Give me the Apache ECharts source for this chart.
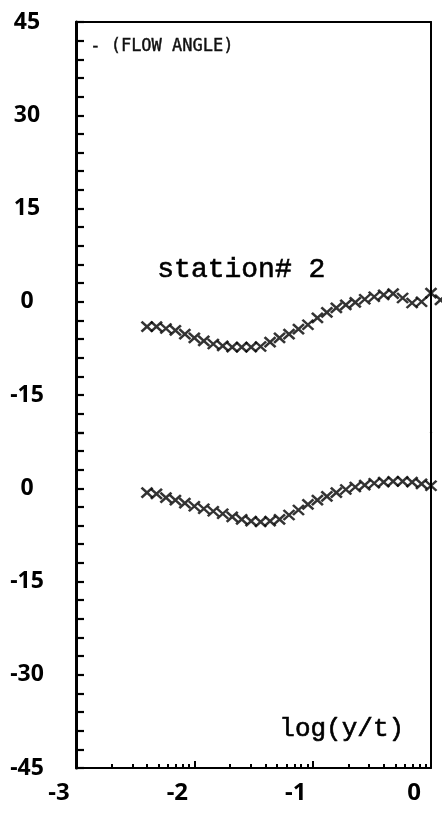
<!DOCTYPE html>
<html><head><meta charset="utf-8">
<script src="https://cdn.jsdelivr.net/npm/echarts@6/dist/echarts.min.js"></script>
<style>html,body{margin:0;padding:0;background:#fff}#c{width:442px;height:823px}</style>
</head><body><div id="c"></div>
<script>
// log(y/t) positions of the measurement points
const xUpper = [-2.40,-2.32,-2.24,-2.16,-2.08,-2.00,-1.92,-1.84,-1.76,-1.68,-1.60,-1.52,-1.44,-1.36,-1.28,-1.20,-1.12,-1.04,-0.96,-0.88,-0.80,-0.72,-0.64,-0.56,-0.48,-0.40,-0.32,-0.24,-0.16,-0.08,0.00,0.08];
// flow angle, upper panel (station# 2)
const angleUpper = [-4.0,-4.0,-4.3,-4.6,-5.2,-5.8,-6.3,-6.8,-7.1,-7.3,-7.3,-7.3,-7.2,-6.5,-5.8,-5.2,-4.4,-3.7,-2.6,-1.7,-1.0,-0.5,-0.1,0.4,0.8,1.1,1.3,0.6,-0.2,0.0,1.4,0.3];
const xLower = [-2.40,-2.32,-2.24,-2.16,-2.08,-2.00,-1.92,-1.84,-1.76,-1.68,-1.60,-1.52,-1.44,-1.36,-1.28,-1.20,-1.12,-1.04,-0.96,-0.88,-0.80,-0.72,-0.64,-0.56,-0.48,-0.40,-0.32,-0.24,-0.16,-0.08,0.00];
// flow angle, lower panel
const angleLower = [-0.7,-0.9,-1.5,-1.9,-2.4,-2.9,-3.3,-3.7,-4.1,-4.6,-5.0,-5.3,-5.4,-5.3,-5.0,-4.3,-3.5,-2.6,-1.9,-1.3,-0.7,-0.2,0.2,0.5,0.8,1.0,1.1,1.1,1.0,0.7,0.4];
// axis ticks / labels
const xDecades = [-3,-2,-1,0];
const xMinorTicks = [];
[-3,-2,-1].forEach(d => { for (let k = 2; k <= 9; k++) xMinorTicks.push(d + Math.log10(k)); });
const yLabelStep = 15;
const texts = { flow: '- (FLOW ANGLE)', station: 'station# 2', xTitle: 'log(y/t)' };

const pxPerDeg = 746 / 120;
const upperMin = -21, upperMax = 45, lowerMin = -45, lowerMax = 9;
const gTop = 22, gLeft = 76, gW = 355;
const h0 = (upperMax - upperMin) * pxPerDeg;
const h1 = (lowerMax - lowerMin) * pxPerDeg;
const numFont = '"Noto Sans", "Liberation Sans", sans-serif';
const numWeight = 'bold condensed';
const ink = '#000';

const yLab = {
  margin: 49, align: 'center', color: ink, fontFamily: numFont, fontWeight: numWeight, fontSize: 23,
  formatter: v => (Math.round(v) % yLabelStep === 0 ? String(Math.round(v)) : '')
};
const yLeft = (gi, mn, mx) => ({
  gridIndex: gi, type: 'value', position: 'left', min: mn, max: mx, interval: 3,
  axisLine: { show: true, onZero: false, lineStyle: { color: ink, width: 3 } },
  axisTick: { show: true, inside: true, length: 8, lineStyle: { color: ink, width: 2.2 } },
  axisLabel: yLab, splitLine: { show: false }
});
const yRight = (gi, mn, mx) => ({
  gridIndex: gi, type: 'value', position: 'right', min: mn, max: mx,
  axisLine: { show: true, onZero: false, lineStyle: { color: ink, width: 2 } },
  axisTick: { show: false }, axisLabel: { show: false }, splitLine: { show: false }
});

const marker = 'path://M0,0L10,10M10,0L0,10';
const sStyle = { color: 'rgba(0,0,0,0)', borderColor: ink, borderWidth: 2.5 };

const chart = echarts.init(document.getElementById('c'), null, { renderer: 'canvas' });
chart.setOption({
  animation: false,
  backgroundColor: '#fff',
  grid: [
    { left: gLeft, top: gTop, width: gW, height: h0 },
    { left: gLeft, top: gTop + h0, width: gW, height: h1 }
  ],
  xAxis: [
    { gridIndex: 0, type: 'value', position: 'top', min: -3, max: 0,
      axisLine: { show: true, onZero: false, lineStyle: { color: ink, width: 2 } },
      axisTick: { show: false }, axisLabel: { show: false }, splitLine: { show: false } },
    { gridIndex: 1, type: 'value', position: 'bottom', min: -3, max: 0,
      axisLine: { show: true, onZero: false, lineStyle: { color: ink, width: 2 } },
      axisTick: { show: true, inside: true, length: 7, customValues: xDecades, lineStyle: { color: ink, width: 2 } },
      axisLabel: { show: true, customValues: xDecades, margin: 13, color: ink, fontFamily: numFont, fontWeight: numWeight, fontSize: 24,
        padding: [0, 34, 0, 0], formatter: v => String(Math.round(v)) },
      splitLine: { show: false } },
    { gridIndex: 1, type: 'value', position: 'bottom', min: -3, max: 0,
      axisLine: { show: false, onZero: false },
      axisTick: { show: true, inside: true, length: 4, customValues: xMinorTicks, lineStyle: { color: ink, width: 2 } },
      axisLabel: { show: false }, splitLine: { show: false } }
  ],
  yAxis: [
    yLeft(0, upperMin, upperMax), yRight(0, upperMin, upperMax),
    yLeft(1, lowerMin, lowerMax), yRight(1, lowerMin, lowerMax)
  ],
  series: [
    { type: 'scatter', xAxisIndex: 0, yAxisIndex: 0, clip: false, symbol: marker, symbolSize: [11, 10],
      itemStyle: sStyle, data: xUpper.map((x, i) => [x, angleUpper[i]]) },
    { type: 'scatter', xAxisIndex: 1, yAxisIndex: 2, clip: false, symbol: marker, symbolSize: [11, 10],
      itemStyle: sStyle, data: xLower.map((x, i) => [x, angleLower[i]]) }
  ],
  graphic: [
    { type: 'text', left: 90, top: 38, style: { text: texts.flow, font: '17px "DejaVu Sans Mono", monospace', fill: '#111', stroke: '#111', lineWidth: 0.4 } },
    { type: 'text', left: 157, top: 255, style: { text: texts.station, font: '28px "Liberation Mono", "DejaVu Sans Mono", monospace', fill: ink, stroke: ink, lineWidth: 0.6 } },
    { type: 'text', left: 279, top: 716, style: { text: texts.xTitle, font: '26px "Liberation Mono", "DejaVu Sans Mono", monospace', fill: ink, stroke: ink, lineWidth: 0.6 } }
  ]
});
</script></body></html>
